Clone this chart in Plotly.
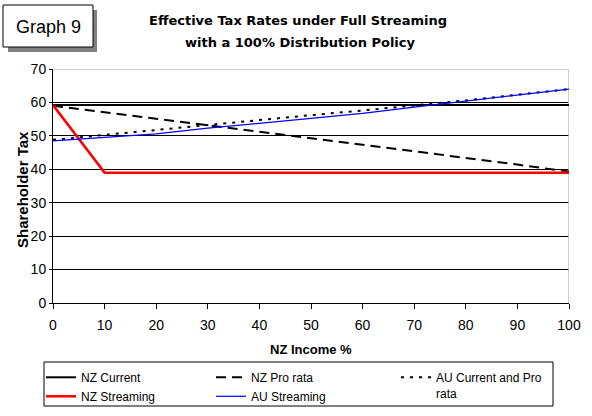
import plotly.graph_objects as go

# ---- data ----
nz_income = [0, 10, 20, 30, 40, 50, 60, 70, 80, 90, 100]
nz_current = [59.2, 59.2, 59.2, 59.2, 59.2, 59.2, 59.2, 59.2, 59.2, 59.2, 59.2]
nz_pro_rata = [59.0, 57.0, 55.0, 53.1, 51.2, 49.3, 47.4, 45.5, 43.4, 41.4, 39.3]
au_current_pro_rata = [48.8, 50.3, 51.8, 53.4, 54.8, 56.2, 57.6, 59.0, 60.6, 62.3, 64.0]
nz_streaming = [59.2, 39.0, 39.0, 39.0, 39.0, 39.0, 39.0, 39.0, 39.0, 39.0, 39.0]
au_streaming = [48.5, 49.5, 50.6, 52.3, 53.7, 55.2, 56.7, 58.6, 60.4, 62.2, 64.0]
x_ticks = [0, 10, 20, 30, 40, 50, 60, 70, 80, 90, 100]
y_ticks = [0, 10, 20, 30, 40, 50, 60, 70]

W, H = 592, 416
L, R, T, B = 53, 569, 69, 303


def px2x(px):
    return (px - L) / (R - L)


def px2y(py):
    return (B - py) / (B - T)


FONT = "Arial, Liberation Sans, sans-serif"
TFONT = "DejaVu Sans, Arial, sans-serif"

fig = go.Figure()
fig.add_trace(go.Scatter(x=nz_income, y=nz_current, name="NZ Current", mode="lines",
                         line=dict(color="black", width=2), legend="legend"))
fig.add_trace(go.Scatter(x=nz_income, y=nz_pro_rata, name="NZ Pro rata", mode="lines",
                         line=dict(color="black", width=2, dash="10px,6px"), legend="legend2"))
fig.add_trace(go.Scatter(x=nz_income, y=au_current_pro_rata, name="AU Current and Pro<br>rata",
                         mode="lines", line=dict(color="black", width=2, dash="3px,6px"),
                         legend="legend3"))
fig.add_trace(go.Scatter(x=nz_income, y=nz_streaming, name="NZ Streaming", mode="lines",
                         line=dict(color="#ff0000", width=2.5), legend="legend"))
fig.add_trace(go.Scatter(x=nz_income, y=au_streaming, name="AU Streaming", mode="lines",
                         line=dict(color="#0000ff", width=1.2), legend="legend2"))

legend_common = dict(yanchor="top", xanchor="left", bgcolor="rgba(0,0,0,0)", borderwidth=0,
                     font=dict(family=FONT, size=12, color="black"), tracegroupgap=0,
                     itemwidth=30, orientation="v", valign="top")

shapes = [
    # plot border (top/right gray)
    dict(type="line", xref="x", yref="y", x0=0, x1=100, y0=70, y1=70,
         line=dict(color="#c0c0c0", width=1.5), layer="between"),
    dict(type="line", xref="x", yref="y", x0=100, x1=100, y0=0, y1=70,
         line=dict(color="#c0c0c0", width=1.5), layer="between"),
    # Graph 9 box shadow and box
    dict(type="rect", xref="paper", yref="paper", x0=px2x(8), x1=px2x(97), y0=px2y(52), y1=px2y(10),
         fillcolor="#808080", line=dict(width=0)),
    dict(type="rect", xref="paper", yref="paper", x0=px2x(3), x1=px2x(93), y0=px2y(47), y1=px2y(5),
         fillcolor="white", line=dict(color="black", width=1)),
    # legend frame
    dict(type="rect", xref="paper", yref="paper", x0=px2x(44), x1=px2x(553), y0=px2y(406), y1=px2y(362),
         line=dict(color="black", width=1)),
]

annotations = [
    dict(text="Graph 9", xref="paper", yref="paper", x=px2x(48), y=px2y(27), showarrow=False,
         xanchor="center", yanchor="middle", font=dict(family=FONT, size=18, color="black")),
    dict(text="<b>Effective Tax Rates under Full Streaming</b>", xref="paper", yref="paper",
         x=px2x(298), y=px2y(20), showarrow=False, xanchor="center", yanchor="middle",
         font=dict(family=TFONT, size=13, color="black")),
    dict(text="<b>with a 100% Distribution Policy</b>", xref="paper", yref="paper",
         x=px2x(300), y=px2y(43), showarrow=False, xanchor="center", yanchor="middle",
         font=dict(family=TFONT, size=13, color="black")),
    dict(text="<b>NZ Income %</b>", xref="paper", yref="paper", x=px2x(311), y=px2y(349),
         showarrow=False, xanchor="center", yanchor="middle",
         font=dict(family=FONT, size=13, color="black")),
    dict(text="<b>Shareholder Tax</b>", xref="paper", yref="paper", x=px2x(22), y=px2y(190),
         showarrow=False, xanchor="center", yanchor="middle", textangle=-90,
         font=dict(family=FONT, size=15, color="black")),
]

fig.update_layout(
    width=W, height=H,
    margin=dict(l=L, r=W - R, t=T, b=H - B, pad=0, autoexpand=False),
    paper_bgcolor="white", plot_bgcolor="white",
    showlegend=True,
    legend=dict(x=px2x(41), y=px2y(363), **legend_common),
    legend2=dict(x=px2x(211), y=px2y(363), **legend_common),
    legend3=dict(x=px2x(396), y=px2y(363), **legend_common),
    shapes=shapes,
    annotations=annotations,
    xaxis=dict(range=[0, 100], tickvals=x_ticks, ticktext=[str(v) for v in x_ticks],
               showgrid=False, zeroline=False, showline=True, linecolor="black", linewidth=1,
               ticks="outside", ticklen=5, tickcolor="black", ticklabelstandoff=4,
               tickfont=dict(family=FONT, size=14, color="black")),
    yaxis=dict(range=[0, 70], tickvals=y_ticks, ticktext=[str(v) for v in y_ticks],
               showgrid=True, gridcolor="black", gridwidth=1, zeroline=False,
               showline=True, linecolor="black", linewidth=1,
               ticks="outside", ticklen=3, tickcolor="black",
               tickfont=dict(family=FONT, size=14, color="black")),
)

fig.write_html("out.html", config={"displayModeBar": False},
               post_script="document.body.style.margin='0';")
